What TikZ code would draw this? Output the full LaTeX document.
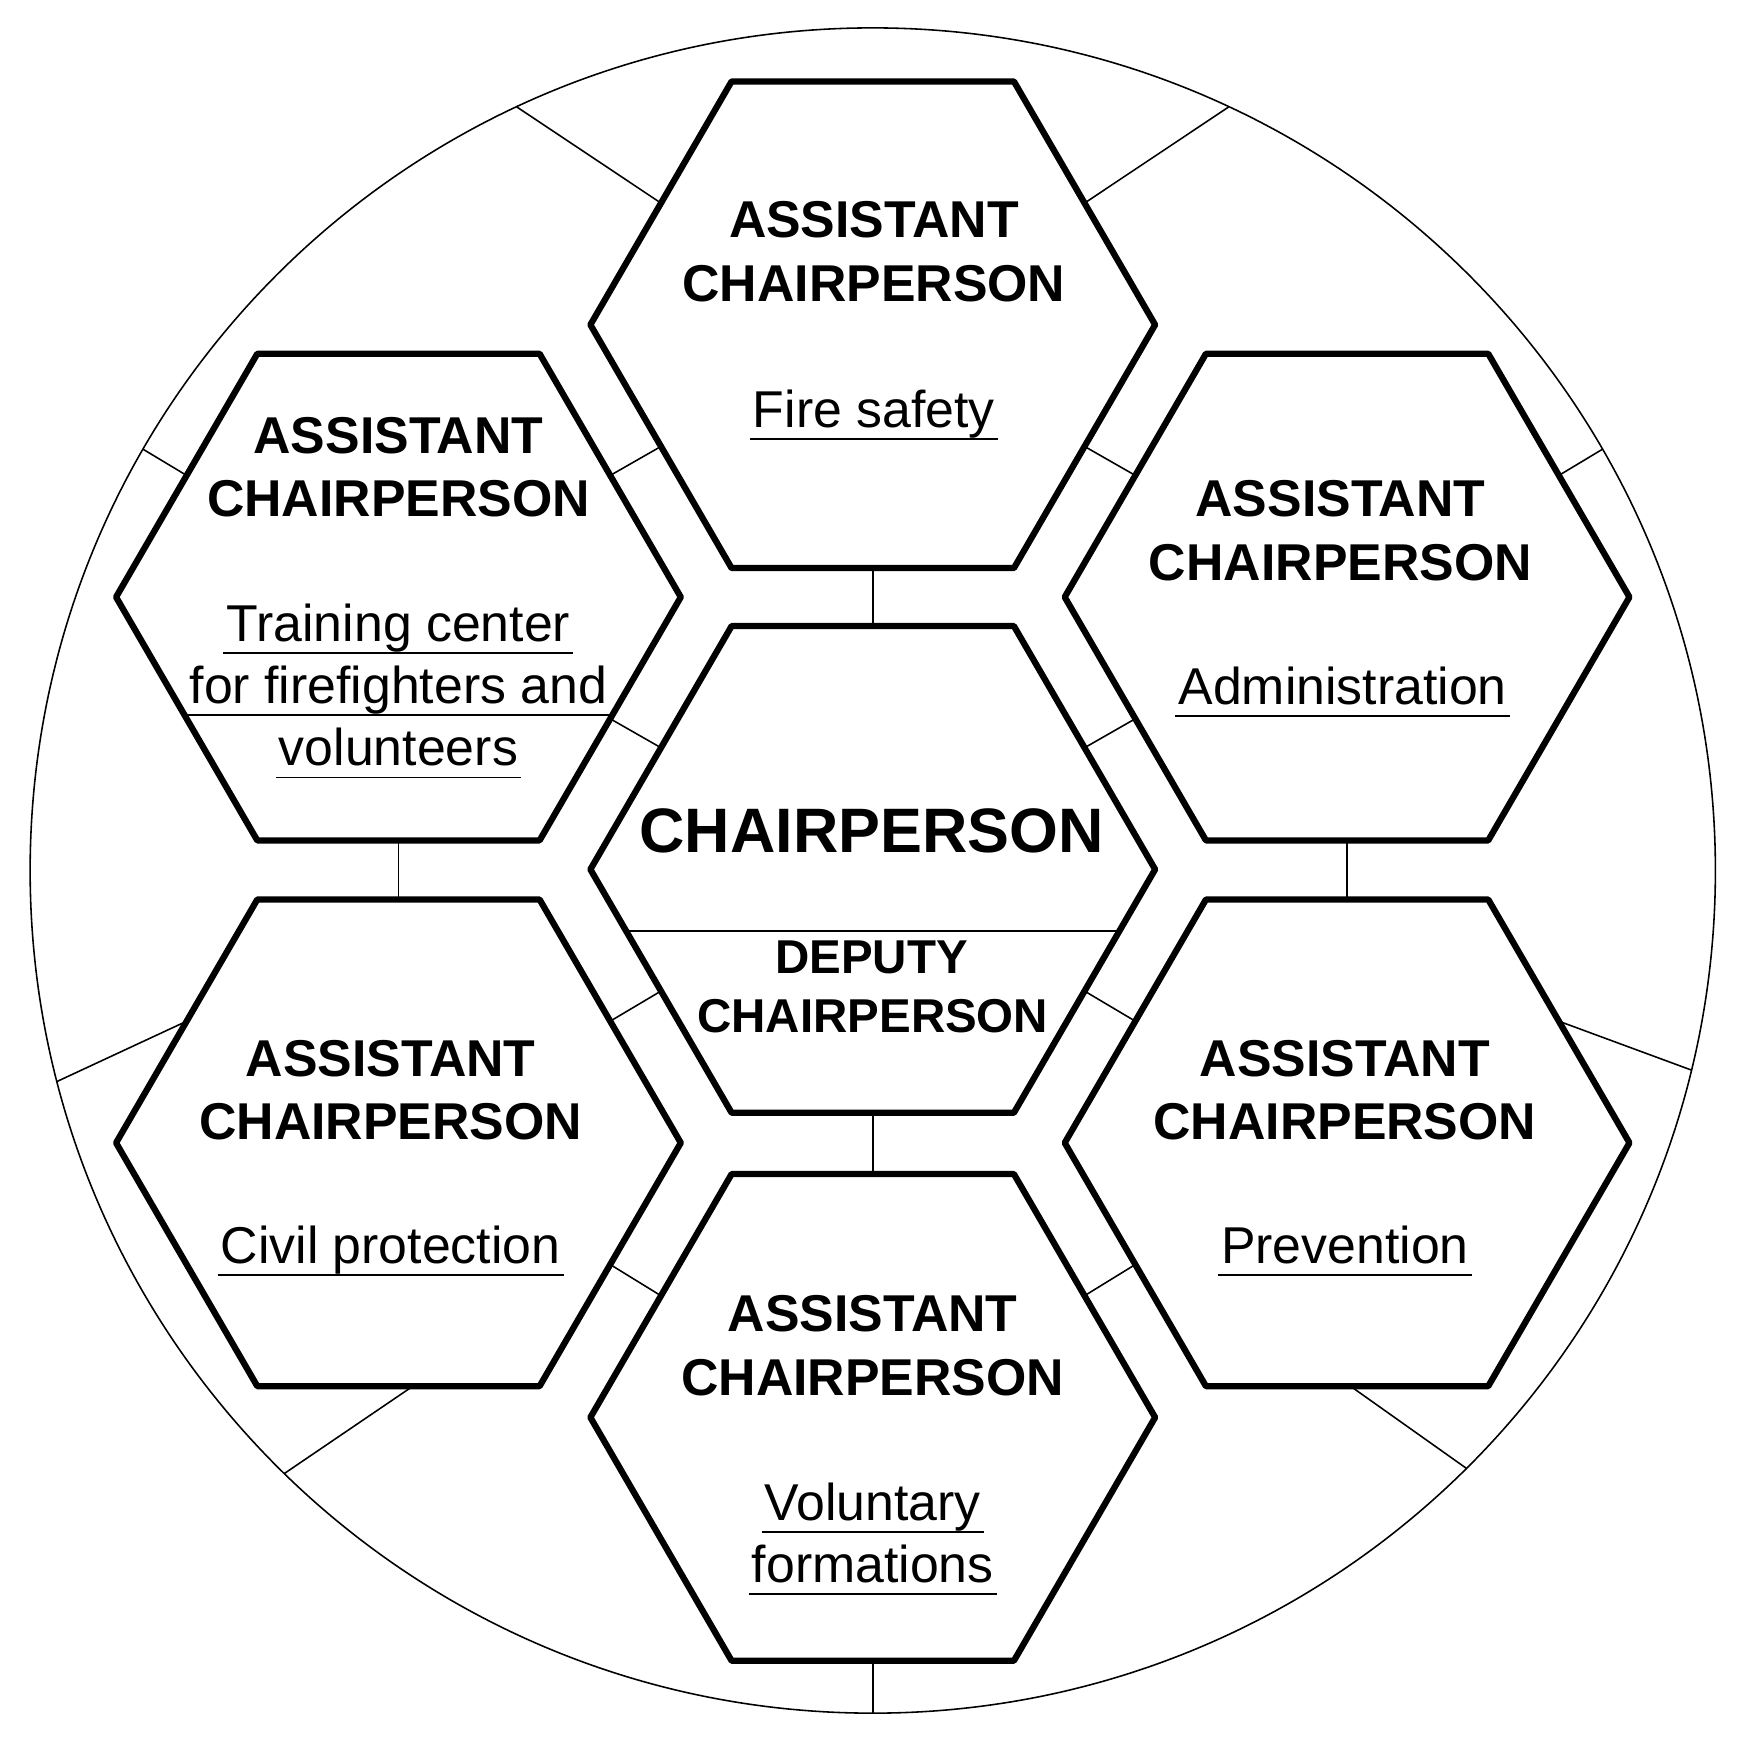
\documentclass[tikz,border=0pt]{standalone}
\usepackage{fontspec}
\setmainfont{Liberation Sans}
\usetikzlibrary{calc}
\tikzset{
  hexline/.style={line width=1.6pt, line join=round},
  conn/.style={line width=0.4pt},
  ulline/.style={line width=0.45pt},
  ttl/.style={font=\fontsize{13.2}{15.8}\selectfont\bfseries, anchor=base, inner sep=0pt},
  sub/.style={font=\fontsize{13.2}{15.8}\selectfont, anchor=base, inner sep=0pt},
  big/.style={font=\fontsize{16}{19}\selectfont\bfseries, anchor=base, inner sep=0pt},
  dep/.style={font=\fontsize{12.1}{14.5}\selectfont\bfseries, anchor=base, inner sep=0pt},
}
\newcommand\hexat[1]{%
  \draw[hexline] ($(#1)+(-253,0)$) -- ($(#1)+(-126.5,-218)$) -- ($(#1)+(126.5,-218)$)
    -- ($(#1)+(253,0)$) -- ($(#1)+(126.5,218)$) -- ($(#1)+(-126.5,218)$) -- cycle;}
\newcommand\ulnode[4]{%
  \node[sub] (#1) at (#2) {#4};
  \draw[ulline] ([xshift=-0.6pt,yshift=-#3]#1.base west) -- ([xshift=0.6pt,yshift=-#3]#1.base east);}
\begin{document}
\begin{tikzpicture}[x=0.01cm,y=-0.01cm]
\useasboundingbox (0,0) rectangle (1568,1564);
% centres
\coordinate (O) at (782,780);
\coordinate (C) at (782,779);
\coordinate (T) at (782,291);
\coordinate (B) at (782,1270);
\coordinate (TL) at (357,535);
\coordinate (TR) at (1207,535);
\coordinate (BL) at (357,1024);
\coordinate (BR) at (1207,1024);
% outer circle
\draw[conn] (O) circle[radius=755];
% hexagons
\hexat{C}\hexat{T}\hexat{B}\hexat{TL}\hexat{TR}\hexat{BL}\hexat{BR}
% inner connectors
\draw[conn] ($(C)+(0,-218)$) -- ($(T)+(0,218)$);
\draw[conn] ($(C)+(0,218)$) -- ($(B)+(0,-218)$);
\draw[conn] ($(C)+(-189.75,-109)$) -- ($(TL)+(189.75,109)$);
\draw[conn] ($(C)+(189.75,-109)$) -- ($(TR)+(-189.75,109)$);
\draw[conn] ($(C)+(-189.75,109)$) -- ($(BL)+(189.75,-109)$);
\draw[conn] ($(C)+(189.75,109)$) -- ($(BR)+(-189.75,-109)$);
\draw[conn] ($(T)+(-189.75,109)$) -- ($(TL)+(189.75,-109)$);
\draw[conn] ($(T)+(189.75,109)$) -- ($(TR)+(-189.75,-109)$);
\draw[conn] ($(TL)+(0,218)$) -- ($(BL)+(0,-218)$);
\draw[conn] ($(TR)+(0,218)$) -- ($(BR)+(0,-218)$);
\draw[conn] ($(B)+(-189.75,-109)$) -- ($(BL)+(189.75,109)$);
\draw[conn] ($(B)+(189.75,-109)$) -- ($(BR)+(-189.75,109)$);
% outer connectors to the circle
\draw[conn] ($(T)+(-189.75,-109)$) -- ($(O)+(245:755)$);
\draw[conn] ($(T)+(189.75,-109)$) -- ($(O)+(295:755)$);
\draw[conn] ($(TL)+(-189.75,-109)$) -- ($(O)+(210:755)$);
\draw[conn] ($(TR)+(189.75,-109)$) -- ($(O)+(330:755)$);
\draw[conn] ($(BL)+(-189.75,-109)$) -- ($(O)+(165.5:755)$);
\draw[conn] ($(BR)+(189.75,-109)$) -- ($(O)+(13.7:755)$);
\draw[conn] ($(BL)+(13,218)$) -- ($(O)+(134.3:755)$);
\draw[conn] ($(BR)+(3,218)$) -- ($(O)+(45.2:755)$);
\draw[conn] ($(B)+(0,218)$) -- ($(O)+(90:755)$);
% centre divider
\draw[conn] ($(C)+(-221.1,55)$) -- ($(C)+(221.1,55)$);
% centre texts
\node[big] (chair) at (781,764) {CHAIRPERSON};
\node[dep] (dep1) at (781,872.6) {DEPUTY};
\node[dep] (dep2) at (782,925) {CHAIRPERSON};
% top
\node[ttl] (t1) at (783,213) {ASSISTANT};
\node[ttl] (t2) at (783,270.5) {CHAIRPERSON};
\ulnode{t3}{783,382.6}{3pt}{Fire safety}
% top left
\node[ttl] (tl1) at (357,406) {ASSISTANT};
\node[ttl] (tl2) at (357,462.5) {CHAIRPERSON};
\ulnode{tl3}{357,574.6}{3pt}{Training center}
\ulnode{tl4}{357,630}{3pt}{for firefighters and}
\ulnode{tl5}{357,686}{3pt}{volunteers}
% top right
\node[ttl] (tr1) at (1201,462.5) {ASSISTANT};
\node[ttl] (tr2) at (1201,520) {CHAIRPERSON};
\ulnode{tr3}{1203,631}{3pt}{Administration}
% bottom left
\node[ttl] (bl1) at (350,964.8) {ASSISTANT};
\node[ttl] (bl2) at (350,1021) {CHAIRPERSON};
\ulnode{bl3}{350,1132}{3pt}{Civil protection}
% bottom right
\node[ttl] (br1) at (1205,964.8) {ASSISTANT};
\node[ttl] (br2) at (1205,1021) {CHAIRPERSON};
\ulnode{br3}{1205,1132}{3pt}{Prevention}
% bottom
\node[ttl] (b1) at (782,1193) {ASSISTANT};
\node[ttl] (b2) at (782,1250) {CHAIRPERSON};
\ulnode{b3}{782,1362}{3pt}{Voluntary}
\ulnode{b4}{782,1418}{3pt}{formations}
\end{tikzpicture}
\end{document}
